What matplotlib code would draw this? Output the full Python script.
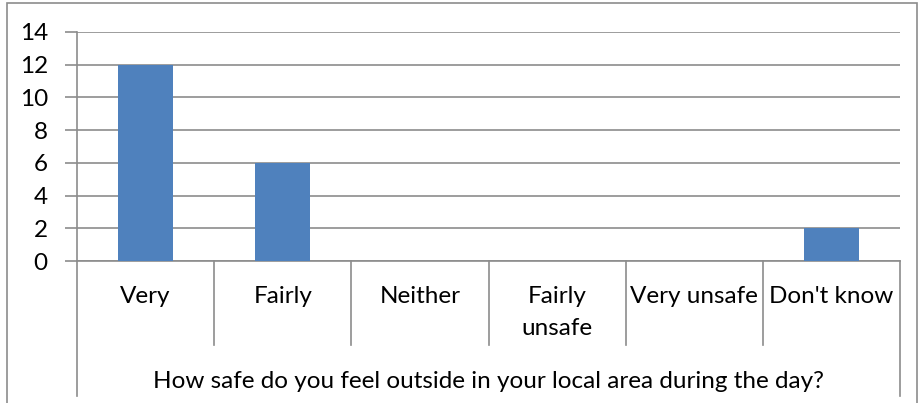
import matplotlib.pyplot as plt
import matplotlib.patches as patches
import matplotlib.transforms as transforms

categories = ["Very", "Fairly", "Neither", "Fairly\nunsafe", "Very unsafe", "Don't know"]
counts = [12, 6, 0, 0, 0, 2]
yticks = [0, 2, 4, 6, 8, 10, 12, 14]
axis_title = "How safe do you feel outside in your local area during the day?"

W, H = 918, 403
plt.rcParams['font.family'] = ['Lato', 'DejaVu Sans']
grey = '#8c8c8c'
fs = 17.5

fig = plt.figure(figsize=(W / 100, H / 100), dpi=100)

# outer chart border
fig.patches.append(patches.Rectangle((7 / W, -0.01), (917 - 7) / W, (H - 3) / H + 0.01,
                                     transform=fig.transFigure, fill=False,
                                     edgecolor=grey, linewidth=1.2))

left, right, top, bottom = 77, 900, 32, 261
ax = fig.add_axes([left / W, 1 - bottom / H, (right - left) / W, (bottom - top) / H])

x = [i + 0.5 for i in range(len(categories))]
ax.bar(x, counts, width=0.4, color='#4f81bd', zorder=3)

ax.set_xlim(0, len(categories))
ax.set_ylim(0, 14)
ax.set_yticks(yticks)
ax.tick_params(axis='y', length=9, color=grey, width=1.2, labelsize=fs, pad=12)
ax.set_xticks([])
ax.yaxis.grid(True, color=grey, linewidth=1.2)
ax.set_axisbelow(True)
for s in ['top', 'right']:
    ax.spines[s].set_visible(False)
for s in ['left', 'bottom']:
    ax.spines[s].set_color(grey)
    ax.spines[s].set_linewidth(1.2)

# category separators below axis
trans = transforms.blended_transform_factory(ax.transData, ax.transAxes)
px = 1 / (bottom - top)
for i in range(len(categories) + 1):
    end = (261 - 396) * px if i in (0, len(categories)) else (261 - 345) * px
    ax.plot([i, i], [0, end], transform=trans, color=grey, linewidth=1.2, clip_on=False)

for xi, lab in zip(x, categories):
    ax.text(xi, (261 - 286) * px, lab, transform=trans, ha='center', va='top',
            fontsize=fs, linespacing=1.65)

ax.text(3, (261 - 381) * px, axis_title, transform=trans, ha='center', va='center',
        fontsize=fs)

fig.savefig('out.png', dpi=100)
